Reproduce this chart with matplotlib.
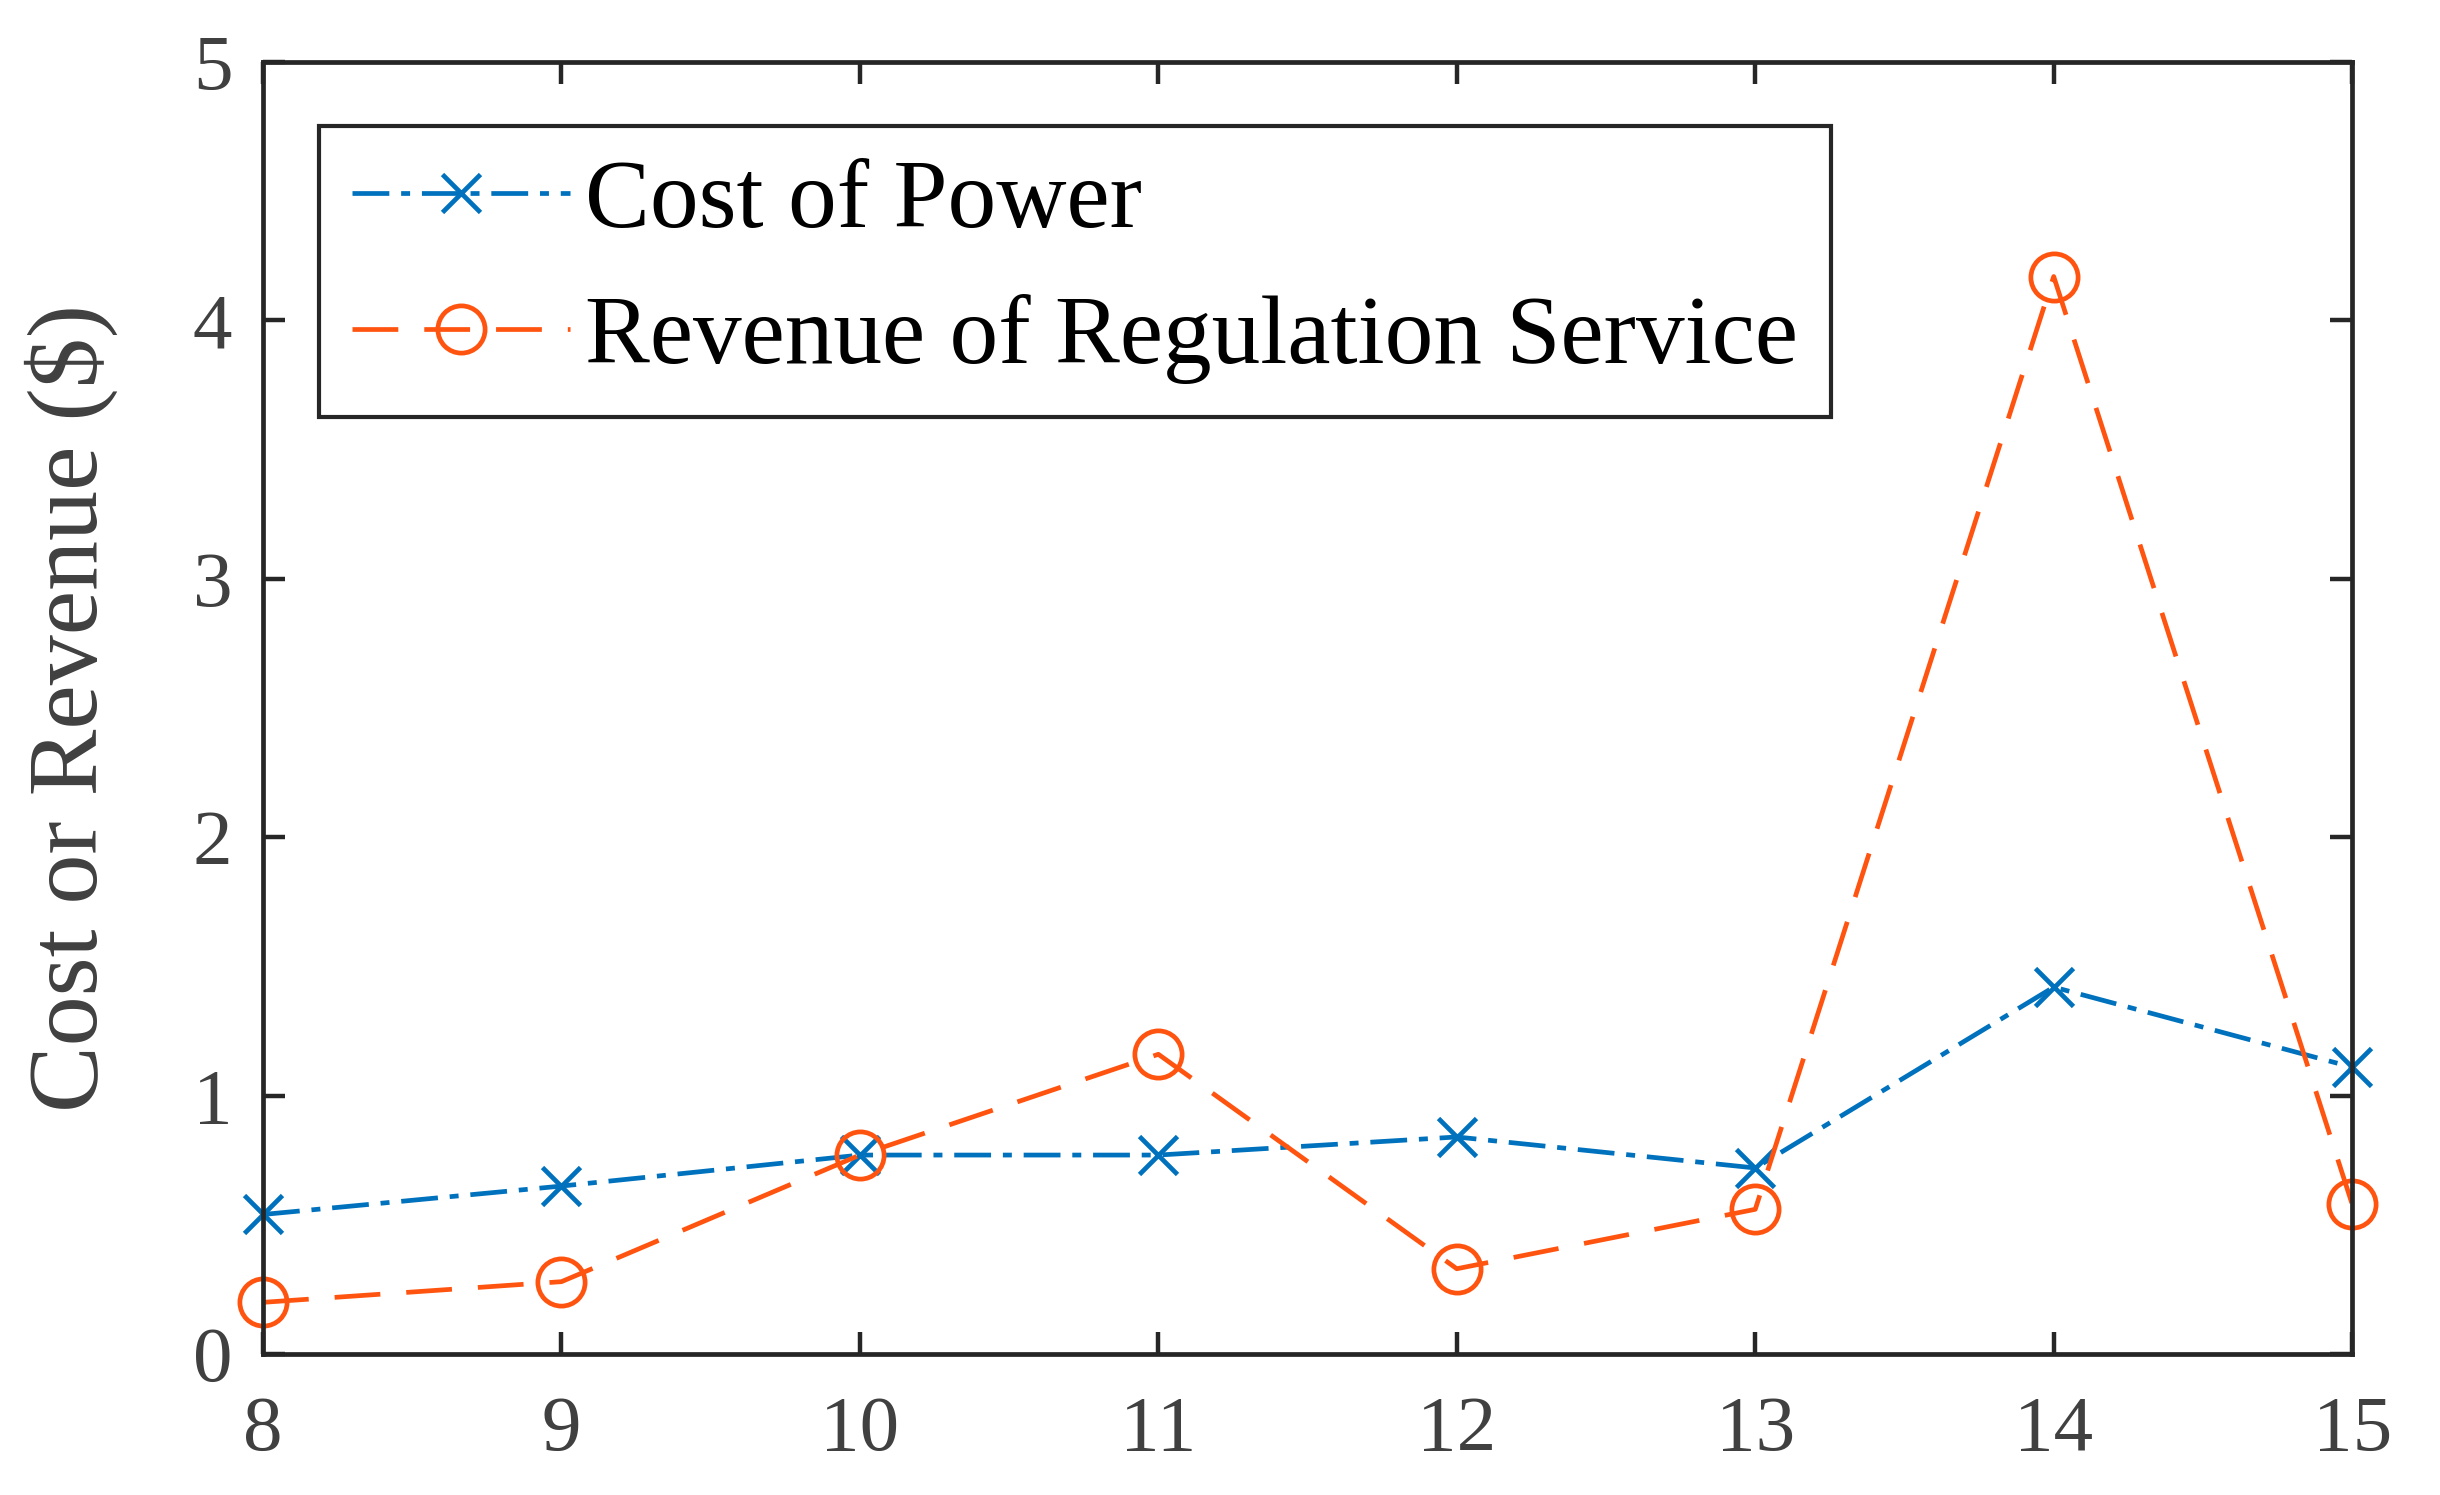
import matplotlib
matplotlib.use("Agg")
import matplotlib.pyplot as plt

hours = [8, 9, 10, 11, 12, 13, 14, 15]
cost_power = [0.54, 0.65, 0.77, 0.77, 0.84, 0.72, 1.42, 1.11]
revenue_reg = [0.20, 0.28, 0.77, 1.16, 0.33, 0.56, 4.17, 0.58]

blue = '#0072BD'
orange = '#FF5410'
gray = '#404040'

plt.rcParams['font.family'] = ['Liberation Serif', 'DejaVu Serif']

fig = plt.figure(figsize=(24.4, 14.95), dpi=100)
ax = fig.add_axes([0.1078, 0.0943, 0.8562, 0.8642])

l1, = ax.plot(hours, cost_power, color=blue, lw=3.4, marker='x', ms=28, mew=3.4,
              label='Cost of Power', clip_on=False)
l1.set_dashes([7.8, 2.5, 1.9, 2.5])
l2, = ax.plot(hours, revenue_reg, color=orange, lw=3.4, marker='o', ms=34, mew=3.4,
              mfc='none', label='Revenue of Regulation Service', clip_on=False)
l2.set_dashes([9.7, 5.5])

ax.set_xlim(8, 15)
ax.set_ylim(0, 5)
ax.set_xticks(hours)
ax.set_yticks([0, 1, 2, 3, 4, 5])
ax.tick_params(direction='in', length=16, width=3.2, top=True, right=True,
               labelsize=57, labelcolor=gray, color='#262626', pad=22)
ax.tick_params(axis='x', pad=30)
for s in ax.spines.values():
    s.set_linewidth(3.4)
    s.set_color('#262626')

ax.set_ylabel('Cost or Revenue ($)', fontsize=72, color=gray, labelpad=54)

leg = ax.legend(loc='upper left', bbox_to_anchor=(0.0266, 0.9502), borderaxespad=0,
                fontsize=70, handlelength=2.25, handletextpad=0.15, borderpad=0.34,
                labelspacing=0.47, fancybox=False, framealpha=1)
leg.get_frame().set_edgecolor('#262626')
leg.get_frame().set_linewidth(3.0)

fig.savefig('out.png', dpi=100)
